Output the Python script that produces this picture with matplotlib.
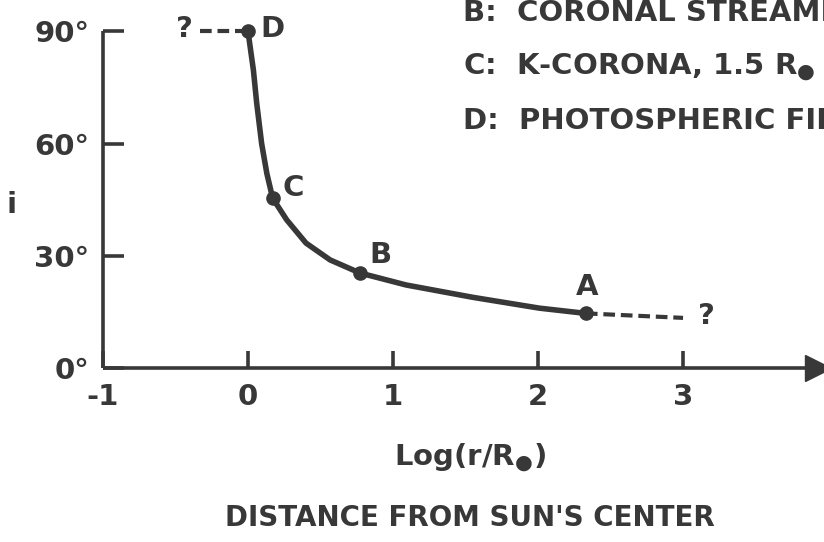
import matplotlib.pyplot as plt

ink = '#383838'

# curve of i vs log distance
log_r = [0.0, 0.037, 0.06, 0.094, 0.13, 0.17, 0.267, 0.40, 0.566, 0.772,
         1.09, 1.55, 2.01, 2.33]
incl = [90, 79.7, 70.8, 60, 52, 45.4, 39.6, 33.4, 28.9, 25.4,
        22.2, 18.9, 16, 14.6]

# labelled points A..D
pt_names = ['A', 'B', 'C', 'D']
pt_x = [2.33, 0.772, 0.17, 0.0]
pt_y = [14.6, 25.4, 45.4, 90]

# uncertain extensions
left_x = [-0.33, 0.0]
left_y = [90, 90]
right_x = [2.33, 3.0]
right_y = [14.6, 13.4]

xticks = [-1, 0, 1, 2, 3]
yticks = [0, 30, 60, 90]
ytick_labels = ['0°', '30°', '60°', '90°']

legend_lines = ['B:  CORONAL STREAMERS',
                'C:  K-CORONA, 1.5 R$_●$',
                'D:  PHOTOSPHERIC FIELD']

plt.rcParams['font.family'] = ['DejaVu Sans']
plt.rcParams['font.weight'] = 'bold'

fig = plt.figure(figsize=(8.24, 5.42), dpi=100)
ax = fig.add_axes([103/824, 1 - 368/542, 721/824, 368/542])
ax.set_xlim(-1, 3.972)
ax.set_ylim(0, 98.4)

for s in ['top', 'right']:
    ax.spines[s].set_visible(False)
for s in ['left', 'bottom']:
    ax.spines[s].set_linewidth(2.6)
    ax.spines[s].set_color(ink)
    ax.spines[s].set_capstyle('butt')
ax.spines['left'].set_bounds(0, 90)

ax.set_xticks(xticks)
ax.set_xticklabels([str(t) for t in xticks])
ax.set_yticks(yticks)
ax.set_yticklabels(ytick_labels)
ax.tick_params(axis='x', direction='in', length=12, width=2.6, color=ink,
               labelsize=21, labelcolor=ink, pad=11)
ax.tick_params(axis='y', direction='in', length=15, width=2.6, color=ink,
               labelsize=21, labelcolor=ink, pad=10)

# arrow head at end of x axis
ax.plot([3.93], [0], marker='>', markersize=19, color=ink, clip_on=False)

ax.plot(log_r, incl, color=ink, lw=4, solid_capstyle='round',
        solid_joinstyle='round', clip_on=False)
ax.plot(pt_x, pt_y, 'o', color=ink, markersize=9.5, clip_on=False)
ax.plot(left_x, left_y, color=ink, lw=3, ls=(0, (2.8, 1.4)), clip_on=False)
ax.plot(right_x, right_y, color=ink, lw=3, ls=(0, (2.8, 1.4)), clip_on=False)

txt = dict(color=ink, fontsize=21, ha='center', va='center')
ax.text(0.166, 90.6, 'D', **txt)
ax.text(0.31, 48.1, 'C', **txt)
ax.text(0.91, 30.2, 'B', **txt)
ax.text(2.34, 21.7, 'A', **txt)
ax.text(-0.44, 90.6, '?', **txt)
ax.text(3.16, 14.0, '?', **txt)

for k, line in enumerate(legend_lines):
    fig.text(463/824, 1 - (13 + 54*k)/542, line, color=ink, fontsize=21,
             ha='left', va='center')

fig.text(12/824, 1 - 205/542, 'i', color=ink, fontsize=21, ha='center', va='center')
fig.text(470/824, 1 - 458/542, 'Log(r/R$_●$)', color=ink, fontsize=21,
         ha='center', va='center')
fig.text(470/824, 1 - 518/542, "DISTANCE FROM SUN'S CENTER", color=ink,
         fontsize=20, ha='center', va='center')

fig.savefig('out.png', dpi=100, facecolor='white')
